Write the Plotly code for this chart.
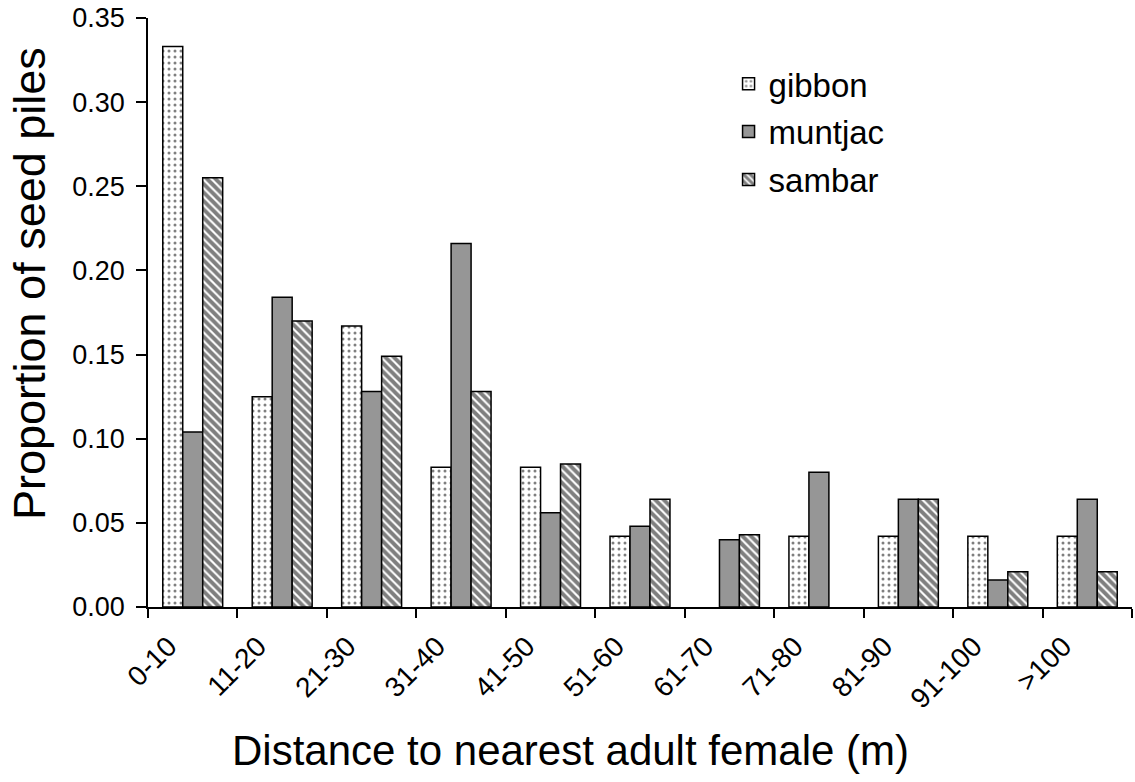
import plotly.graph_objects as go

categories = ["0-10", "11-20", "21-30", "31-40", "41-50", "51-60",
              "61-70", "71-80", "81-90", "91-100", ">100"]
# None = no seed piles in that class (no bar drawn)
gibbon = [0.333, 0.125, 0.167, 0.083, 0.083, 0.042, None, 0.042, 0.042, 0.042, 0.042]
muntjac = [0.104, 0.184, 0.128, 0.216, 0.056, 0.048, 0.040, 0.080, 0.064, 0.016, 0.064]
sambar = [0.255, 0.170, 0.149, 0.128, 0.085, 0.064, 0.043, None, 0.064, 0.021, 0.021]
y_ticks = [0.0, 0.05, 0.10, 0.15, 0.20, 0.25, 0.30, 0.35]

FONT = "Liberation Sans, Arial, sans-serif"
outline = dict(color="black", width=1.5)

fig = go.Figure()
fig.add_trace(go.Bar(
    x=categories, y=gibbon, name="gibbon", legendgroup="g",
    marker=dict(color="white", line=outline,
                pattern=dict(shape=".", fgcolor="black", bgcolor="white",
                             size=6, solidity=0.2, fillmode="overlay")),
))
fig.add_trace(go.Bar(
    x=categories, y=muntjac, name="muntjac", legendgroup="m",
    marker=dict(color="#969696", line=outline),
))
fig.add_trace(go.Bar(
    x=categories, y=sambar, name="sambar", legendgroup="s",
    marker=dict(color="white", line=outline,
                pattern=dict(shape="\\", fgcolor="black", bgcolor="white",
                             size=6, solidity=0.65, fillmode="overlay")),
))

fig.update_layout(
    width=1135, height=782,
    margin=dict(l=148, r=3, t=18, b=175),
    paper_bgcolor="white", plot_bgcolor="white",
    barmode="group", bargap=0.33, bargroupgap=0.0,
    font=dict(family=FONT, color="black", size=27),
    showlegend=True,
    legend=dict(x=0.59, y=0.936, xanchor="left", yanchor="top",
                font=dict(size=33), tracegroupgap=2,
                bgcolor="rgba(0,0,0,0)"),
    xaxis=dict(
        type="category", showline=True, linecolor="black", linewidth=1.5,
        ticks="outside", tickson="boundaries", ticklen=9, tickcolor="black",
        tickwidth=1.5, tickangle=-45, tickfont=dict(size=28),
        ticklabelshift=-24, ticklabelstandoff=10,
        showgrid=False, zeroline=False,
    ),
    yaxis=dict(
        range=[0, 0.35], tickvals=y_ticks, tickformat=".2f",
        showline=True, linecolor="black", linewidth=1.5,
        ticks="outside", ticklen=10, tickcolor="black", tickwidth=1.5,
        ticklabelstandoff=6,
        tickfont=dict(size=27), showgrid=False, zeroline=False,
    ),
    annotations=[
        dict(text="Distance to nearest adult female (m)", xref="paper",
             yref="paper", x=(570 - 148) / 984, y=-(750 - 607) / 589,
             xanchor="center", yanchor="middle", showarrow=False,
             font=dict(size=42)),
        dict(text="Proportion of seed piles", xref="paper", yref="paper",
             x=-(148 - 29) / 984, y=(607 - 284) / 589, textangle=-90,
             xanchor="center", yanchor="middle", showarrow=False,
             font=dict(size=45)),
    ],
)

fig.write_html("out.html")
